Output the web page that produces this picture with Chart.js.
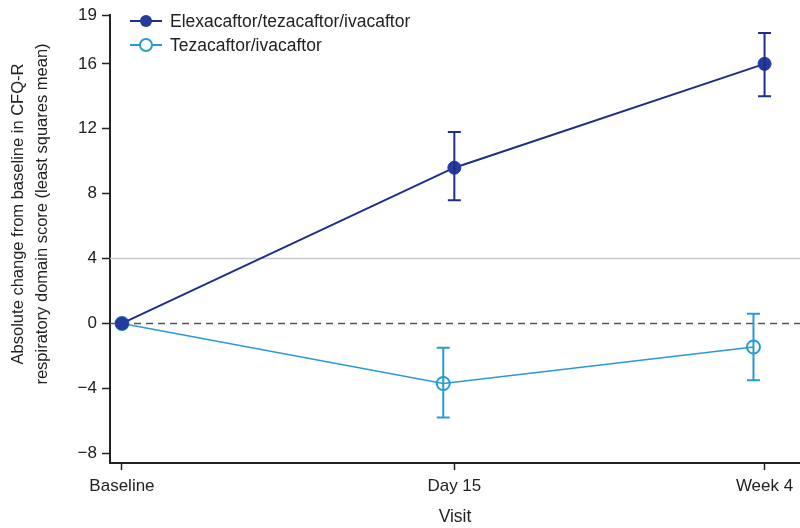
<!DOCTYPE html>
<html>
<head>
<meta charset="utf-8">
<script src="https://cdn.jsdelivr.net/npm/chart.js@4/dist/chart.umd.min.js"></script>
<style>
  html, body { margin: 0; padding: 0; background: #fff; }
  #wrap { width: 800px; height: 528px; }
</style>
</head>
<body>
<div id="wrap"><canvas id="cfq"></canvas></div>
<script>
// visits and results
var visits = ['Baseline', 'Day 15', 'Week 4'];
var visitDay = [0, 15, 29];
var elexaMean = [0, 9.6, 16.0];
var elexaLow = [null, 7.6, 14.0];
var elexaHigh = [null, 11.8, 17.9];
var tezaMean = [0, -3.7, -1.45];
var tezaLow = [null, -5.8, -3.5];
var tezaHigh = [null, -1.5, 0.6];
var yTicks = [-8, -4, 0, 4, 8, 12, 16, 19];

var NAVY = '#1f2d8c';
var BLUE = '#2a9ad6';
var INK = '#222';
var FONT = '"Liberation Sans", Arial, sans-serif';

function pts(means, shift) {
  return means.map(function (v, i) {
    return { x: visitDay[i] + (i > 0 ? shift : 0), y: v };
  });
}

// reference lines at 0 (dashed) and 4 (grey), plus error bars
var extras = {
  id: 'extras',
  beforeDatasetsDraw: function (chart) {
    var ctx = chart.ctx, a = chart.chartArea, y = chart.scales.y;
    ctx.save();
    ctx.strokeStyle = '#c8c8c8';
    ctx.lineWidth = 1.5;
    ctx.beginPath();
    ctx.moveTo(a.left, y.getPixelForValue(4));
    ctx.lineTo(a.right, y.getPixelForValue(4));
    ctx.stroke();
    ctx.strokeStyle = '#555';
    ctx.setLineDash([7, 5]);
    ctx.beginPath();
    ctx.moveTo(a.left, y.getPixelForValue(0));
    ctx.lineTo(a.right, y.getPixelForValue(0));
    ctx.stroke();
    ctx.restore();
  },
  afterDatasetsDraw: function (chart) {
    var ctx = chart.ctx, x = chart.scales.x, y = chart.scales.y;
    var bars = [[0, elexaLow, elexaHigh, NAVY], [1, tezaLow, tezaHigh, BLUE]];
    ctx.save();
    ctx.lineWidth = 2;
    bars.forEach(function (b) {
      var ds = chart.data.datasets[b[0]];
      ds.data.forEach(function (p, i) {
        if (b[1][i] == null) return;
        var px = x.getPixelForValue(p.x);
        var lo = y.getPixelForValue(b[1][i]);
        var hi = y.getPixelForValue(b[2][i]);
        ctx.strokeStyle = b[3];
        ctx.beginPath();
        ctx.moveTo(px, lo); ctx.lineTo(px, hi);
        ctx.moveTo(px - 6.5, lo); ctx.lineTo(px + 6.5, lo);
        ctx.moveTo(px - 6.5, hi); ctx.lineTo(px + 6.5, hi);
        ctx.stroke();
      });
    });
    ctx.restore();
  },
  afterDraw: function (chart) {
    var ctx = chart.ctx;
    ctx.save();
    // legend
    chart.data.datasets.forEach(function (ds, i) {
      var ly = 21 + i * 24;
      ctx.strokeStyle = ds.borderColor;
      ctx.lineWidth = 2;
      ctx.beginPath();
      ctx.moveTo(130, ly); ctx.lineTo(162, ly);
      ctx.stroke();
      ctx.beginPath();
      ctx.arc(146, ly, 6, 0, Math.PI * 2);
      if (i === 0) { ctx.fillStyle = ds.pointBackgroundColor; ctx.fill(); }
      else { ctx.fillStyle = '#fff'; ctx.fill(); ctx.stroke(); }
      ctx.fillStyle = INK;
      ctx.font = '17.5px ' + FONT;
      ctx.textBaseline = 'middle';
      ctx.textAlign = 'left';
      ctx.fillText(ds.label, 170, ly + 1);
    });
    // y axis title
    ctx.font = '16.5px ' + FONT;
    ctx.translate(0, 214);
    ctx.rotate(-Math.PI / 2);
    ctx.textAlign = 'center';
    ctx.fillText('Absolute change from baseline in CFQ-R', 0, 18);
    ctx.fillText('respiratory domain score (least squares mean)', 0, 42);
    ctx.restore();
  }
};

var chart = new Chart(document.getElementById('cfq'), {
  type: 'line',
  data: {
    datasets: [{
      label: 'Elexacaftor/tezacaftor/ivacaftor',
      data: pts(elexaMean, 0),
      borderColor: NAVY,
      borderWidth: 2,
      pointRadius: 6.5,
      pointBackgroundColor: '#243a9c',
      pointBorderColor: '#243a9c',
      pointBorderWidth: 1
    }, {
      label: 'Tezacaftor/ivacaftor',
      data: pts(tezaMean, -0.5),
      borderColor: BLUE,
      borderWidth: 1.5,
      pointRadius: 6.5,
      pointBackgroundColor: 'rgba(0,0,0,0)',
      pointBorderColor: BLUE,
      pointBorderWidth: 2
    }]
  },
  options: {
    responsive: true,
    maintainAspectRatio: false,
    animation: false,
    layout: { autoPadding: false, padding: { top: 15, right: 0, left: 0, bottom: 0 } },
    plugins: { legend: { display: false }, tooltip: { enabled: false } },
    scales: {
      x: {
        type: 'linear',
        min: -0.54,
        max: 30.6,
        afterBuildTicks: function (s) { s.ticks = visitDay.map(function (d) { return { value: d }; }); },
        afterFit: function (s) { s.height = 65; s.paddingLeft = 0; s.paddingRight = 0; },
        ticks: {
          color: INK,
          font: { family: FONT, size: 17 },
          padding: 6,
          maxRotation: 0,
          callback: function (v) { return visits[visitDay.indexOf(v)]; }
        },
        grid: { drawOnChartArea: false, drawTicks: true, tickLength: 7, tickColor: INK, tickWidth: 1.5 },
        border: { color: INK, width: 2 },
        title: { display: true, text: 'Visit', color: INK, font: { family: FONT, size: 17.5 }, padding: { top: 0, bottom: 0 } }
      },
      y: {
        min: -8.6,
        max: 19,
        afterBuildTicks: function (s) { s.ticks = yTicks.map(function (v) { return { value: v }; }); },
        afterFit: function (s) { s.width = 110; },
        ticks: {
          color: INK,
          font: { family: FONT, size: 17 },
          padding: 5,
          callback: function (v) { return v < 0 ? '\u2212' + Math.abs(v) : String(v); }
        },
        grid: { drawOnChartArea: false, drawTicks: true, tickLength: 8, tickColor: INK, tickWidth: 1.5 },
        border: { color: INK, width: 2 }
      }
    }
  },
  plugins: [extras]
});
</script>
</body>
</html>
